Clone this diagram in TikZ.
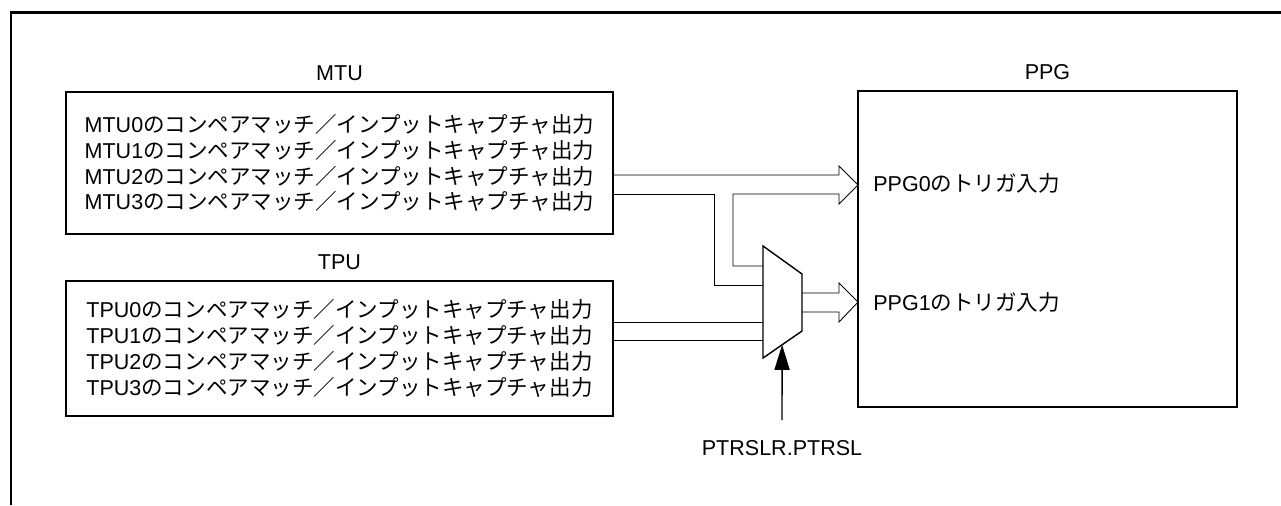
\documentclass[tikz,border=0pt]{standalone}
\usepackage{fontspec}
\setmainfont{Liberation Sans}
\newfontfamily\jpfont{Noto Sans CJK JP}
\usepackage{tikz}
\usetikzlibrary{positioning,arrows.meta,calc}
\newcommand\jtxt[1]{{\jpfont #1}}
\newcommand\capout{\jtxt{のコンペアマッチ／インプットキャプチャ出力}}
\tikzset{
  txt/.style={font=\fontsize{12.25}{14.74}\selectfont,inner sep=0pt},
  blk/.style={draw,line width=0.8pt,outer sep=0pt,align=center,txt},
  ttl/.style={txt},
  bus/.style={line width=0.5pt},
  sar/.style={-{Triangle[length=0.5cm,width=0.3cm]},line width=0.8pt},
  frm/.style={line width=1.7pt},
}
\begin{document}
\begin{tikzpicture}[x=0.02cm,y=-0.02cm]
    \useasboundingbox (0,0) rectangle (1281,505);
    \draw[frm] (11,505) -- (11,12) -- (1281,12);
    % source and target blocks
    \node[blk,minimum width=10.94cm,minimum height=2.84cm] (mtu) at (339.5,163)
      {MTU0\capout\\MTU1\capout\\MTU2\capout\\MTU3\capout};
    \node[blk,minimum width=10.94cm,minimum height=2.7cm] (tpu) at (339.5,348.5)
      {TPU0\capout\\TPU1\capout\\TPU2\capout\\TPU3\capout};
    \node[blk,minimum width=7.58cm,minimum height=6.32cm] (ppg) at (1047.5,249) {};
    \node[ttl,above=2.2mm of mtu] {MTU};
    \node[ttl,above=2.2mm of tpu] {TPU};
    \node[ttl,above=2.2mm of ppg] {PPG};
    \node[ttl,anchor=west] (pin0) at (873,183) {PPG0\jtxt{のトリガ入力}};
    \node[ttl,anchor=west] (pin1) at (873,302) {PPG1\jtxt{のトリガ入力}};
    % selector
    \coordinate (mxa) at (763,246);
    \coordinate (mxb) at (802,274);
    \coordinate (mxc) at (802,331);
    \coordinate (mxd) at (763,358);
    \draw[line width=0.8pt,fill=white] (mxa) -- (mxb) -- (mxc) -- (mxd) -- cycle;
    \coordinate (mxs) at ($(mxd)!0.49!(mxc)$);
    \node[ttl] (sel) at (782,448) {PTRSLR.PTRSL};
    \coordinate (sb) at (sel.north |- 0,420);
    % buses
    \draw[bus] (mtu.east |- 0,175) -- (839,175) -- (839,166) -- (ppg.west |- 0,185)
      -- (839,204) -- (839,194) -- (733,194) -- (733,266) -- (mxa |- 0,266);
    \draw[bus] (mtu.east |- 0,194) -| (714,285) -- (mxa |- 0,285);
    \draw[bus] (tpu.east |- 0,322) -- (mxa |- 0,322);
    \draw[bus] (tpu.east |- 0,340) -- (mxa |- 0,340);
    \draw[bus] (mxb |- 0,293) -- (839,293) -- (839,283) -- (ppg.west |- 0,302)
      -- (839,322) -- (839,312) -- (mxb |- 0,312);
    \draw[sar] (sb) -- (mxs);
\end{tikzpicture}
\end{document}
